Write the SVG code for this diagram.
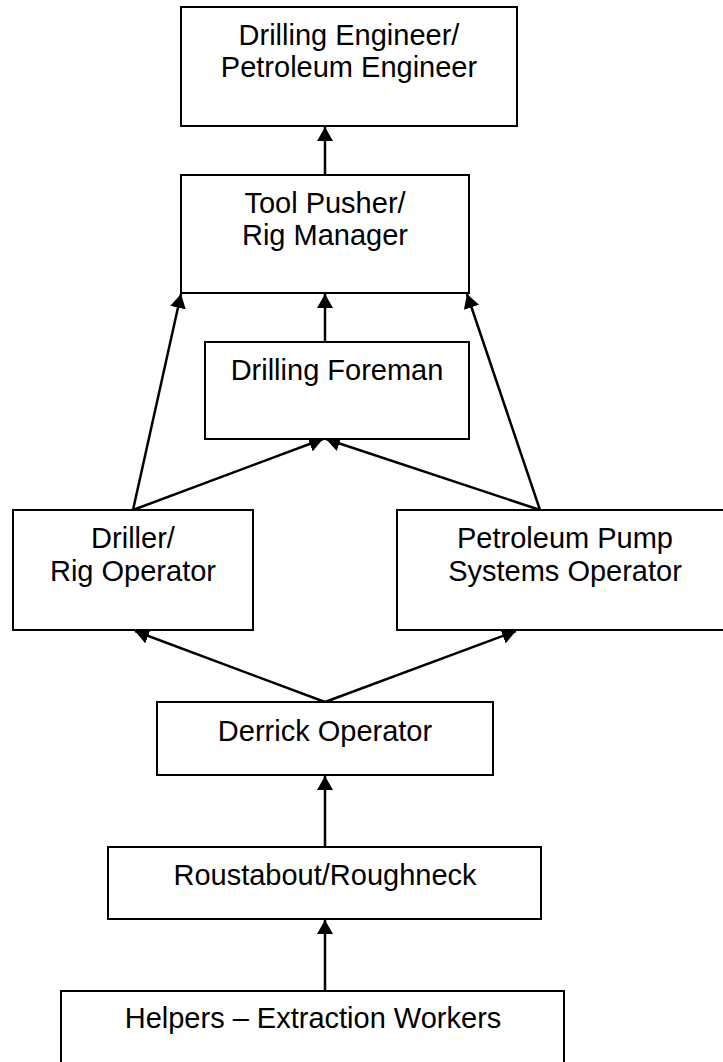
<svg xmlns="http://www.w3.org/2000/svg" width="723" height="1062" viewBox="0 0 723 1062">
<style>
.box{fill:#fff;stroke:#000;stroke-width:2}
.lbl{font-family:"Liberation Sans",Arial,sans-serif;font-size:29px;fill:#000;text-anchor:middle}
.con{stroke:#000;stroke-width:2.5;fill:none;marker-end:url(#ah)}
</style>
<defs>
<marker id="ah" markerUnits="userSpaceOnUse" viewBox="0 0 14 16" markerWidth="14" markerHeight="16" refX="14" refY="8" orient="auto">
<path d="M0,0 L14,8 L0,16 z" fill="#000"/>
</marker>
</defs>
<rect width="723" height="1062" fill="#fff"/>
<g id="connectors">
<line class="con" x1="325" y1="175" x2="325" y2="127"/>
<line class="con" x1="325" y1="342" x2="325" y2="294"/>
<line class="con" x1="133" y1="510" x2="181" y2="294"/>
<line class="con" x1="540" y1="510" x2="467" y2="294"/>
<line class="con" x1="133" y1="510" x2="323" y2="439"/>
<line class="con" x1="540" y1="510" x2="326" y2="439"/>
<line class="con" x1="325" y1="702" x2="135" y2="631"/>
<line class="con" x1="325" y1="702" x2="516" y2="631"/>
<line class="con" x1="325" y1="847" x2="325" y2="776"/>
<line class="con" x1="325" y1="991" x2="325" y2="920"/>
</g>
<g id="drilling-engineer">
<rect class="box" x="181" y="7" width="336" height="119"/>
<text class="lbl" x="349" y="45">Drilling Engineer/</text>
<text class="lbl" x="349" y="77">Petroleum Engineer</text>
</g>
<g id="tool-pusher">
<rect class="box" x="181" y="175" width="288" height="118"/>
<text class="lbl" x="325" y="213">Tool Pusher/</text>
<text class="lbl" x="325" y="245">Rig Manager</text>
</g>
<g id="drilling-foreman">
<rect class="box" x="205" y="342" width="264" height="97"/>
<text class="lbl" x="337" y="380">Drilling Foreman</text>
</g>
<g id="driller">
<rect class="box" x="13" y="510" width="240" height="120"/>
<text class="lbl" x="133" y="548">Driller/</text>
<text class="lbl" x="133" y="581">Rig Operator</text>
</g>
<g id="pump-operator">
<rect class="box" x="397" y="510" width="336" height="120"/>
<text class="lbl" x="565" y="548">Petroleum Pump</text>
<text class="lbl" x="565" y="581">Systems Operator</text>
</g>
<g id="derrick-operator">
<rect class="box" x="157" y="702" width="336" height="73"/>
<text class="lbl" x="325" y="741">Derrick Operator</text>
</g>
<g id="roustabout">
<rect class="box" x="108" y="847" width="433" height="72"/>
<text class="lbl" x="325" y="885">Roustabout/Roughneck</text>
</g>
<g id="helpers">
<rect class="box" x="61" y="991" width="503" height="80"/>
<text class="lbl" x="313" y="1028">Helpers – Extraction Workers</text>
</g>
</svg>
